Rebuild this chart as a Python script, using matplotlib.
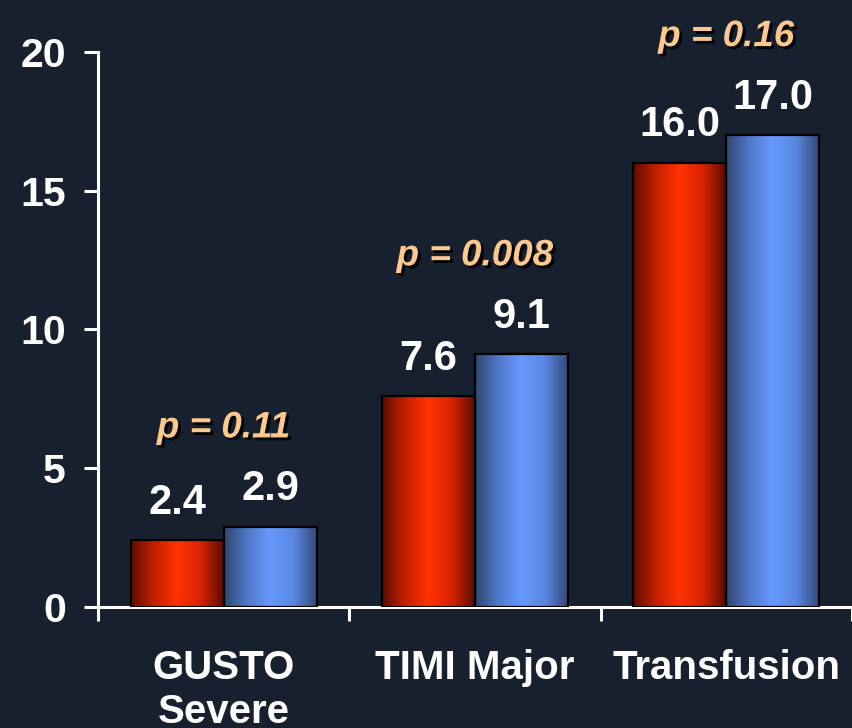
import numpy as np
import matplotlib
matplotlib.use("Agg")
import matplotlib.pyplot as plt
from matplotlib.colors import LinearSegmentedColormap
import matplotlib.patheffects as pe

categories = ["GUSTO\nSevere", "TIMI Major", "Transfusion"]
series_red = [2.4, 7.6, 16.0]
series_blue = [2.9, 9.1, 17.0]
p_labels = ["p = 0.11", "p = 0.008", "p = 0.16"]
yticks = [0, 5, 10, 15, 20]

BG = "#17202e"
FONT = ["Liberation Sans", "DejaVu Sans"]
plt.rcParams["font.family"] = FONT
plt.rcParams["font.weight"] = "bold"

fig = plt.figure(figsize=(8.52, 7.28), dpi=100, facecolor=BG)
ax = fig.add_axes([0.115, 0.1662, 0.885, 0.7624], facecolor=BG)

x = np.arange(len(categories))
w = 0.37
red_cmap = LinearSegmentedColormap.from_list("r", ["#5e0d00", "#c42000", "#ff3300", "#d82400", "#5a0c00"])
blue_cmap = LinearSegmentedColormap.from_list("b", ["#30466f", "#5078c8", "#6699ff", "#5a88e0", "#34497a"])

grad = np.linspace(0, 1, 256).reshape(1, -1)

def grad_bars(xs, vals, cmap):
    bars = ax.bar(xs, vals, width=w, facecolor="none", edgecolor="black", linewidth=1.6, zorder=3)
    for b in bars:
        x0, y0 = b.get_x(), b.get_y()
        im = ax.imshow(grad, cmap=cmap, aspect="auto",
                       extent=[x0, x0 + b.get_width(), y0, y0 + b.get_height()], zorder=2)
        im.set_clip_path(b)
    return bars

rb = grad_bars(x - w / 2, series_red, red_cmap)
bb = grad_bars(x + w / 2, series_blue, blue_cmap)

for bars, vals in ((rb, series_red), (bb, series_blue)):
    for b, v in zip(bars, vals):
        ax.annotate(f"{v:.1f}", (b.get_x() + b.get_width() / 2, v), xytext=(0, 27),
                    textcoords="offset points", ha="center", va="center",
                    color="white", fontsize=30, fontweight="bold", zorder=5)

for i, (p, a, b) in enumerate(zip(p_labels, series_red, series_blue)):
    ax.annotate(p, (i, max(a, b)), xytext=(0, 71), textcoords="offset points",
                ha="center", va="center", color="#fcc88c", fontsize=26.5,
                fontweight="bold", fontstyle="italic", annotation_clip=False,
                path_effects=[pe.withSimplePatchShadow(offset=(2, -2), shadow_rgbFace="black", alpha=1.0)])

ax.set_xlim(-0.5, 2.5)
ax.set_ylim(0, 20)
ax.set_yticks(yticks)
ax.set_yticklabels([str(t) for t in yticks])
ax.tick_params(axis="y", colors="white", labelcolor="white", labelsize=29.5, length=10, width=2.2, pad=13, direction="out")
ax.set_xticks(x)
ax.set_xticklabels(categories, linespacing=1.2)
ax.tick_params(axis="x", which="major", length=0, labelcolor="white", labelsize=29, pad=30)
ax.set_xticks([-0.5, 0.5, 1.5, 2.5], minor=True)
ax.tick_params(axis="x", which="minor", length=10, width=2.2, colors="white", direction="out")
for lbl in ax.get_xticklabels() + ax.get_yticklabels():
    lbl.set_fontweight("bold")

for s in ("top", "right"):
    ax.spines[s].set_visible(False)
for s in ("left", "bottom"):
    ax.spines[s].set_color("white")
    ax.spines[s].set_linewidth(2.2)

fig.savefig("out.png", dpi=100, facecolor=BG)
